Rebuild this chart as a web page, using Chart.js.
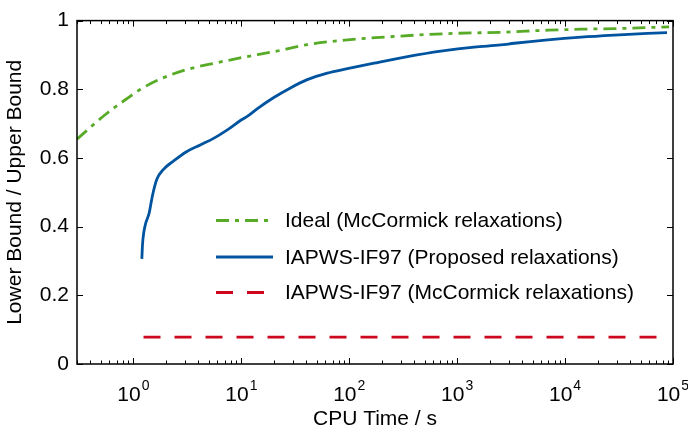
<!DOCTYPE html>
<html>
<head>
<meta charset="utf-8">
<script src="https://cdn.jsdelivr.net/npm/chart.js@4/dist/chart.umd.min.js"></script>
<style>
  html, body { margin: 0; padding: 0; background: #fff; }
  canvas { display: block; }
</style>
</head>
<body>
<canvas id="c" width="688" height="432"></canvas>
<script>
// ===== data =====
const idealT = [0.3, 0.558, 0.855, 1.22, 1.875, 3.08, 5.86, 10.4, 19.7, 41, 96, 241, 493, 1000, 2530, 6900, 14100, 33000, 92000];
const idealV = [0.655, 0.728, 0.771, 0.804, 0.833, 0.857, 0.877, 0.893, 0.909, 0.93, 0.944, 0.953, 0.959, 0.963, 0.966, 0.972, 0.975, 0.977, 0.982];

const propT = [1.197, 1.215, 1.25, 1.3, 1.4, 1.5, 1.648, 1.9, 2.35, 3.13, 4.16, 5.53, 7.36, 9.8, 11.7, 14, 20, 28.5, 40.8, 62.5, 96, 170, 347, 705, 1436, 2530, 3380, 6900, 14100, 28600, 58000, 88000];
const propV = [0.306, 0.35, 0.385, 0.41, 0.44, 0.49, 0.538, 0.567, 0.591, 0.619, 0.638, 0.657, 0.681, 0.709, 0.724, 0.743, 0.776, 0.804, 0.828, 0.847, 0.86, 0.876, 0.895, 0.911, 0.923, 0.929, 0.934, 0.944, 0.952, 0.958, 0.963, 0.965];

const mccT = [1.24, 72000];
const mccV = [0.078, 0.078];

const seriesLabels = ['Ideal (McCormick relaxations)', 'IAPWS-IF97 (Proposed relaxations)', 'IAPWS-IF97 (McCormick relaxations)'];
const xTickExp = [0, 1, 2, 3, 4, 5];
const xMin = 0.3, xMax = 1e5;

const FONT = '"Liberation Sans", Arial, Helvetica, sans-serif';
const FS = 21;
const pts = (t, v) => t.map((x, i) => ({ x, y: v[i] }));

// tick positions for the log axis: 1..9 x 10^n inside the range
function logTicks(min, max) {
  const out = [];
  for (let e = Math.floor(Math.log10(min)); e <= Math.ceil(Math.log10(max)); e++) {
    for (let d = 1; d <= 9; d++) {
      const v = d * Math.pow(10, e);
      if (v >= min * 0.999 && v <= max * 1.001) out.push({ value: v, major: d === 1 });
    }
  }
  return out;
}

// frame, inward ticks, superscript labels, legend
const decorPlugin = {
  id: 'decor',
  afterDraw(chart) {
    const { ctx, chartArea: a, scales: { x, y } } = chart;
    ctx.save();
    ctx.strokeStyle = '#000';
    ctx.lineWidth = 1;
    ctx.beginPath();
    x.ticks.forEach(t => {
      const px = Math.round(x.getPixelForValue(t.value)) + 0.5;
      const len = t.major ? 6 : 3.5;
      ctx.moveTo(px, a.bottom); ctx.lineTo(px, a.bottom - len);
      ctx.moveTo(px, a.top); ctx.lineTo(px, a.top + len);
    });
    y.ticks.forEach(t => {
      const py = Math.round(y.getPixelForValue(t.value)) + 0.5;
      ctx.moveTo(a.left, py); ctx.lineTo(a.left + 6, py);
      ctx.moveTo(a.right, py); ctx.lineTo(a.right - 6, py);
    });
    ctx.stroke();
    ctx.lineWidth = 1.5;
    ctx.strokeRect(a.left, a.top, a.right - a.left, a.bottom - a.top);

    // x tick labels 10^n
    ctx.fillStyle = '#000';
    ctx.textBaseline = 'alphabetic';
    xTickExp.forEach(e => {
      const px = x.getPixelForValue(Math.pow(10, e));
      ctx.font = FS + 'px ' + FONT;
      const w1 = ctx.measureText('10').width;
      ctx.font = '14px ' + FONT;
      const w2 = ctx.measureText(String(e)).width;
      const x0 = px - (w1 + w2 + 1) / 2;
      ctx.font = FS + 'px ' + FONT;
      ctx.textAlign = 'left';
      ctx.fillText('10', x0, 401);
      ctx.font = '14px ' + FONT;
      ctx.fillText(String(e), x0 + w1 + 1, 390);
    });

    // legend
    const rows = [220.5, 257, 292.5];
    chart.data.datasets.forEach((ds, i) => {
      ctx.strokeStyle = ds.borderColor;
      ctx.lineWidth = ds.borderWidth;
      ctx.setLineDash(ds.borderDash || []);
      ctx.beginPath();
      ctx.moveTo(216, rows[i]); ctx.lineTo(273, rows[i]);
      ctx.stroke();
      ctx.setLineDash([]);
      ctx.font = FS + 'px ' + FONT;
      ctx.textAlign = 'left';
      ctx.textBaseline = 'middle';
      ctx.fillText(ds.label, 285, rows[i] + 1);
    });
    ctx.restore();
  }
};

new Chart(document.getElementById('c'), {
  type: 'line',
  data: {
    datasets: [
      { label: seriesLabels[0], data: pts(idealT, idealV), borderColor: '#57AB27', borderWidth: 2.8, borderDash: [13, 6, 4, 6], pointRadius: 0, cubicInterpolationMode: 'monotone' },
      { label: seriesLabels[1], data: pts(propT, propV), borderColor: '#00549F', borderWidth: 2.8, pointRadius: 0, cubicInterpolationMode: 'monotone' },
      { label: seriesLabels[2], data: pts(mccT, mccV), borderColor: '#CC071E', borderWidth: 2.8, borderDash: [17, 14], pointRadius: 0 }
    ]
  },
  options: {
    responsive: false,
    animation: false,
    layout: { padding: { left: 0, top: 13, right: 15, bottom: 0 } },
    plugins: { legend: { display: false }, tooltip: { enabled: false } },
    scales: {
      x: {
        type: 'logarithmic', min: xMin, max: xMax,
        afterBuildTicks: s => { s.ticks = logTicks(xMin, xMax); },
        afterFit: s => { s.height = 68; },
        ticks: { display: false },
        grid: { display: false },
        border: { display: false },
        title: { display: true, text: 'CPU Time / s', color: '#000', font: { family: FONT, size: FS }, padding: { top: 0, bottom: 0 } }
      },
      y: {
        min: 0, max: 1,
        afterFit: s => { s.width = 77; },
        ticks: { stepSize: 0.2, color: '#000', font: { family: FONT, size: FS }, padding: 8, callback: v => String(+v.toFixed(1)) },
        grid: { display: false, drawTicks: false },
        border: { display: false },
        title: { display: true, text: 'Lower Bound / Upper Bound', color: '#000', font: { family: FONT, size: FS }, padding: { top: 3, bottom: 0 } }
      }
    }
  },
  plugins: [decorPlugin]
});
</script>
</body>
</html>
